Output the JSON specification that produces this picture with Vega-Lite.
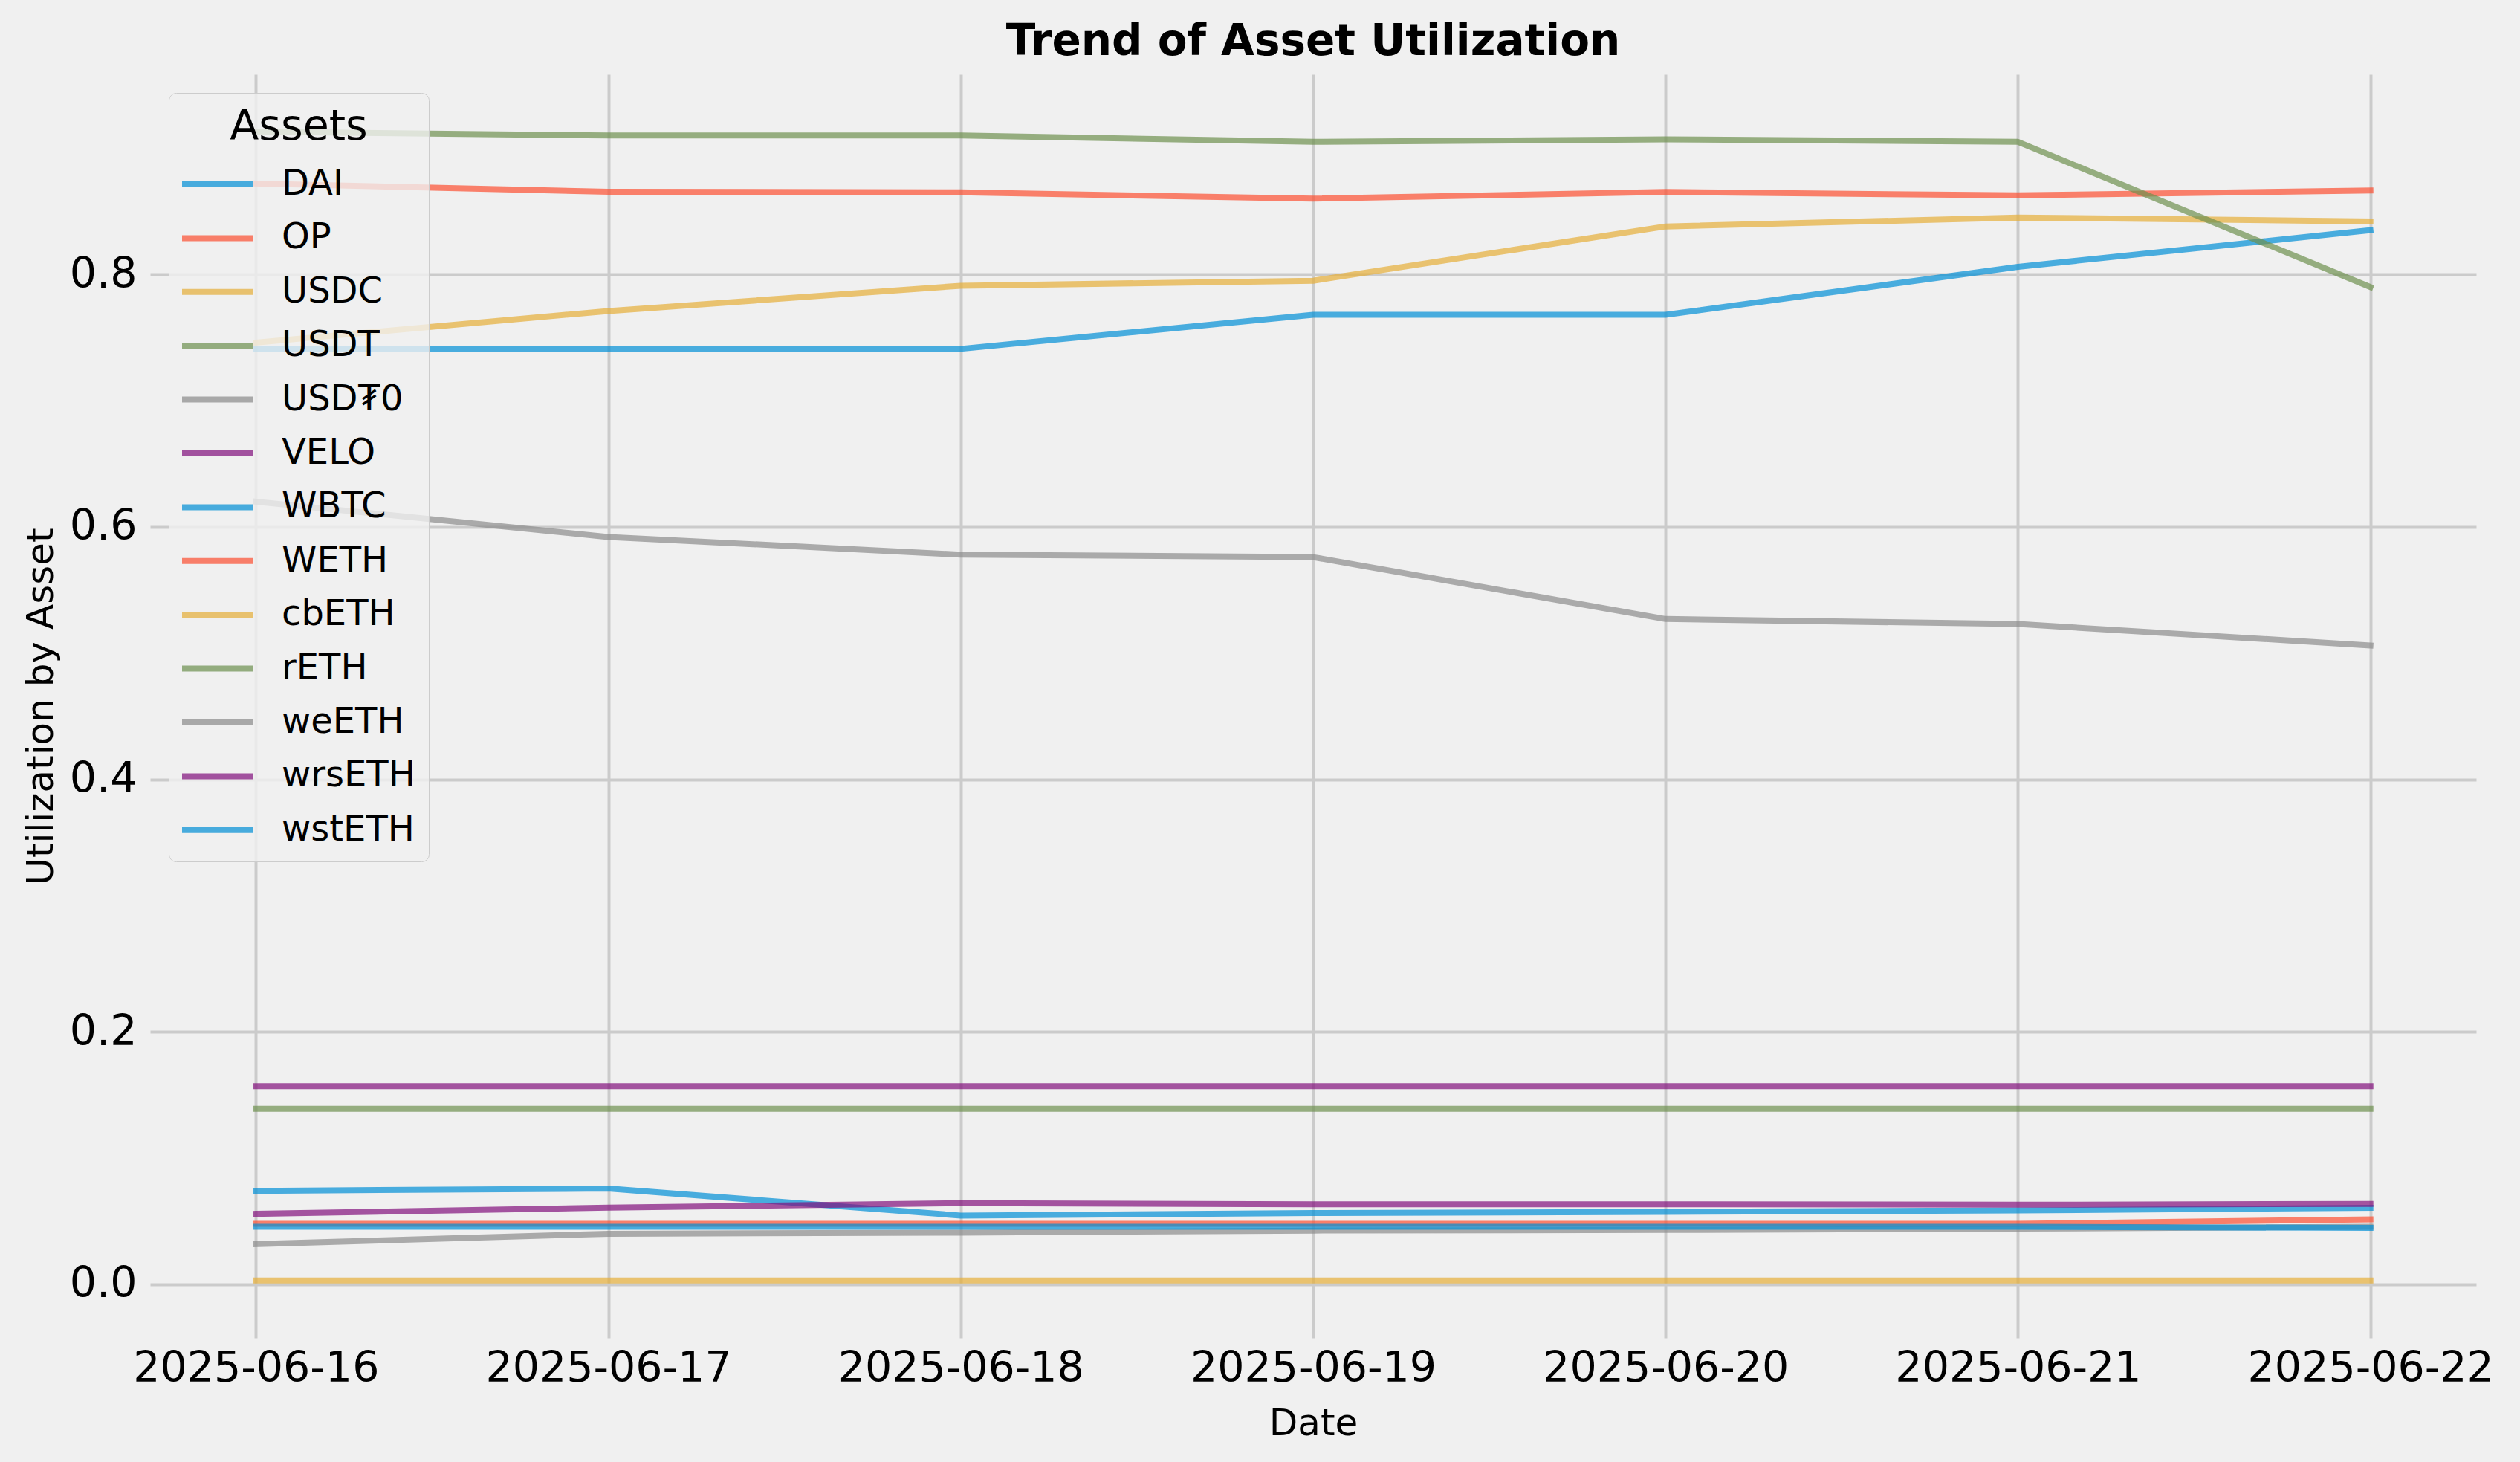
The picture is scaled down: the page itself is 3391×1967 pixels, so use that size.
{
  "$schema": "https://vega.github.io/schema/vega-lite/v6.json",
  "autosize": {"type": "none"},
  "width": 3130,
  "height": 1700,
  "padding": {"left": 202, "top": 100, "right": 59, "bottom": 167},
  "background": "#f0f0f0",
  "config": {
    "font": "DejaVu Sans",
    "view": {"stroke": null, "fill": "#f0f0f0"},
    "axis": {
      "domain": false,
      "ticks": false,
      "grid": true,
      "gridColor": "#cbcbcb",
      "gridWidth": 4,
      "labelFont": "DejaVu Sans",
      "labelFontSize": 57,
      "labelColor": "#000000",
      "labelLimit": 1000,
      "labelOverlap": false,
      "labelFlush": false,
      "titleFont": "DejaVu Sans",
      "titleFontSize": 50,
      "titleFontWeight": "normal",
      "titleColor": "#000000"
    }
  },
  "title": {
    "text": "Trend of Asset Utilization",
    "font": "DejaVu Sans",
    "fontSize": 58,
    "fontWeight": "bold",
    "color": "#000000",
    "anchor": "middle",
    "frame": "group",
    "baseline": "alphabetic",
    "offset": -32
  },
  "data": {
    "values": [
      {"date": "2025-06-16", "asset": "DAI", "value": 0.741},
      {"date": "2025-06-17", "asset": "DAI", "value": 0.741},
      {"date": "2025-06-18", "asset": "DAI", "value": 0.741},
      {"date": "2025-06-19", "asset": "DAI", "value": 0.768},
      {"date": "2025-06-20", "asset": "DAI", "value": 0.768},
      {"date": "2025-06-21", "asset": "DAI", "value": 0.806},
      {"date": "2025-06-22", "asset": "DAI", "value": 0.835},
      {"date": "2025-06-16", "asset": "OP", "value": 0.872},
      {"date": "2025-06-17", "asset": "OP", "value": 0.8655},
      {"date": "2025-06-18", "asset": "OP", "value": 0.865},
      {"date": "2025-06-19", "asset": "OP", "value": 0.860},
      {"date": "2025-06-20", "asset": "OP", "value": 0.8653},
      {"date": "2025-06-21", "asset": "OP", "value": 0.8626},
      {"date": "2025-06-22", "asset": "OP", "value": 0.8665},
      {"date": "2025-06-16", "asset": "USDC", "value": 0.746},
      {"date": "2025-06-17", "asset": "USDC", "value": 0.771},
      {"date": "2025-06-18", "asset": "USDC", "value": 0.791},
      {"date": "2025-06-19", "asset": "USDC", "value": 0.795},
      {"date": "2025-06-20", "asset": "USDC", "value": 0.838},
      {"date": "2025-06-21", "asset": "USDC", "value": 0.845},
      {"date": "2025-06-22", "asset": "USDC", "value": 0.842},
      {"date": "2025-06-16", "asset": "USDT", "value": 0.913},
      {"date": "2025-06-17", "asset": "USDT", "value": 0.910},
      {"date": "2025-06-18", "asset": "USDT", "value": 0.910},
      {"date": "2025-06-19", "asset": "USDT", "value": 0.905},
      {"date": "2025-06-20", "asset": "USDT", "value": 0.907},
      {"date": "2025-06-21", "asset": "USDT", "value": 0.905},
      {"date": "2025-06-22", "asset": "USDT", "value": 0.790},
      {"date": "2025-06-16", "asset": "USD₮0", "value": 0.620},
      {"date": "2025-06-17", "asset": "USD₮0", "value": 0.592},
      {"date": "2025-06-18", "asset": "USD₮0", "value": 0.578},
      {"date": "2025-06-19", "asset": "USD₮0", "value": 0.576},
      {"date": "2025-06-20", "asset": "USD₮0", "value": 0.527},
      {"date": "2025-06-21", "asset": "USD₮0", "value": 0.523},
      {"date": "2025-06-22", "asset": "USD₮0", "value": 0.506},
      {"date": "2025-06-16", "asset": "VELO", "value": 0.157},
      {"date": "2025-06-17", "asset": "VELO", "value": 0.157},
      {"date": "2025-06-18", "asset": "VELO", "value": 0.157},
      {"date": "2025-06-19", "asset": "VELO", "value": 0.157},
      {"date": "2025-06-20", "asset": "VELO", "value": 0.157},
      {"date": "2025-06-21", "asset": "VELO", "value": 0.157},
      {"date": "2025-06-22", "asset": "VELO", "value": 0.157},
      {"date": "2025-06-16", "asset": "WBTC", "value": 0.074},
      {"date": "2025-06-17", "asset": "WBTC", "value": 0.0758},
      {"date": "2025-06-18", "asset": "WBTC", "value": 0.0544},
      {"date": "2025-06-19", "asset": "WBTC", "value": 0.0564},
      {"date": "2025-06-20", "asset": "WBTC", "value": 0.0573},
      {"date": "2025-06-21", "asset": "WBTC", "value": 0.0585},
      {"date": "2025-06-22", "asset": "WBTC", "value": 0.0605},
      {"date": "2025-06-16", "asset": "WETH", "value": 0.0479},
      {"date": "2025-06-17", "asset": "WETH", "value": 0.0479},
      {"date": "2025-06-18", "asset": "WETH", "value": 0.0479},
      {"date": "2025-06-19", "asset": "WETH", "value": 0.0479},
      {"date": "2025-06-20", "asset": "WETH", "value": 0.0479},
      {"date": "2025-06-21", "asset": "WETH", "value": 0.0479},
      {"date": "2025-06-22", "asset": "WETH", "value": 0.0514},
      {"date": "2025-06-16", "asset": "cbETH", "value": 0.003},
      {"date": "2025-06-17", "asset": "cbETH", "value": 0.003},
      {"date": "2025-06-18", "asset": "cbETH", "value": 0.003},
      {"date": "2025-06-19", "asset": "cbETH", "value": 0.003},
      {"date": "2025-06-20", "asset": "cbETH", "value": 0.003},
      {"date": "2025-06-21", "asset": "cbETH", "value": 0.003},
      {"date": "2025-06-22", "asset": "cbETH", "value": 0.003},
      {"date": "2025-06-16", "asset": "rETH", "value": 0.139},
      {"date": "2025-06-17", "asset": "rETH", "value": 0.139},
      {"date": "2025-06-18", "asset": "rETH", "value": 0.139},
      {"date": "2025-06-19", "asset": "rETH", "value": 0.139},
      {"date": "2025-06-20", "asset": "rETH", "value": 0.139},
      {"date": "2025-06-21", "asset": "rETH", "value": 0.139},
      {"date": "2025-06-22", "asset": "rETH", "value": 0.139},
      {"date": "2025-06-16", "asset": "weETH", "value": 0.0318},
      {"date": "2025-06-17", "asset": "weETH", "value": 0.040},
      {"date": "2025-06-18", "asset": "weETH", "value": 0.0408},
      {"date": "2025-06-19", "asset": "weETH", "value": 0.0425},
      {"date": "2025-06-20", "asset": "weETH", "value": 0.043},
      {"date": "2025-06-21", "asset": "weETH", "value": 0.044},
      {"date": "2025-06-22", "asset": "weETH", "value": 0.0455},
      {"date": "2025-06-16", "asset": "wrsETH", "value": 0.0558},
      {"date": "2025-06-17", "asset": "wrsETH", "value": 0.0607},
      {"date": "2025-06-18", "asset": "wrsETH", "value": 0.0642},
      {"date": "2025-06-19", "asset": "wrsETH", "value": 0.0634},
      {"date": "2025-06-20", "asset": "wrsETH", "value": 0.0634},
      {"date": "2025-06-21", "asset": "wrsETH", "value": 0.063},
      {"date": "2025-06-22", "asset": "wrsETH", "value": 0.0636},
      {"date": "2025-06-16", "asset": "wstETH", "value": 0.0455},
      {"date": "2025-06-17", "asset": "wstETH", "value": 0.0455},
      {"date": "2025-06-18", "asset": "wstETH", "value": 0.0455},
      {"date": "2025-06-19", "asset": "wstETH", "value": 0.0455},
      {"date": "2025-06-20", "asset": "wstETH", "value": 0.0455},
      {"date": "2025-06-21", "asset": "wstETH", "value": 0.0455},
      {"date": "2025-06-22", "asset": "wstETH", "value": 0.0446}
    ]
  },
  "mark": {"type": "line", "strokeWidth": 8, "opacity": 0.7, "strokeCap": "square", "strokeJoin": "round"},
  "encoding": {
    "x": {
      "field": "date",
      "type": "temporal",
      "title": "Date",
      "scale": {
        "type": "utc",
        "domain": [
          {"year": 2025, "month": 6, "date": 15, "hours": 16, "minutes": 48, "utc": true},
          {"year": 2025, "month": 6, "date": 22, "hours": 7, "minutes": 12, "utc": true}
        ]
      },
      "axis": {
        "values": [
          {"year": 2025, "month": 6, "date": 16, "utc": true},
          {"year": 2025, "month": 6, "date": 17, "utc": true},
          {"year": 2025, "month": 6, "date": 18, "utc": true},
          {"year": 2025, "month": 6, "date": 19, "utc": true},
          {"year": 2025, "month": 6, "date": 20, "utc": true},
          {"year": 2025, "month": 6, "date": 21, "utc": true},
          {"year": 2025, "month": 6, "date": 22, "utc": true}
        ],
        "format": "%Y-%m-%d",
        "labelPadding": 13,
        "titlePadding": 21,
        "labelAngle": 0
      }
    },
    "y": {
      "field": "value",
      "type": "quantitative",
      "title": "Utilization by Asset",
      "scale": {"domain": [-0.0425, 0.9585], "nice": false, "zero": false},
      "axis": {
        "values": [0, 0.2, 0.4, 0.6, 0.8],
        "format": ".1f",
        "labelPadding": 18,
        "titlePadding": 13
      }
    },
    "color": {
      "field": "asset",
      "type": "nominal",
      "scale": {
        "domain": ["DAI", "OP", "USDC", "USDT", "USD₮0", "VELO", "WBTC", "WETH", "cbETH", "rETH", "weETH", "wrsETH", "wstETH"],
        "range": ["#008fd5", "#fc4f30", "#e5ae38", "#6d904f", "#8b8b8b", "#810f7c", "#008fd5", "#fc4f30", "#e5ae38", "#6d904f", "#8b8b8b", "#810f7c", "#008fd5"]
      },
      "legend": {
        "orient": "none",
        "legendX": 25,
        "legendY": 25,
        "title": "Assets",
        "titleFont": "DejaVu Sans",
        "titleFontSize": 57,
        "titleFontWeight": "normal",
        "titleColor": "#000000",
        "titleAnchor": "middle",
        "titleLimit": 1000,
        "titlePadding": 24,
        "labelFont": "DejaVu Sans",
        "labelFontSize": 48,
        "labelColor": "#000000",
        "labelLimit": 1000,
        "labelOffset": 34,
        "symbolOffset": -5,
        "symbolType": "stroke",
        "symbolSize": 9409,
        "symbolStrokeWidth": 8,
        "symbolOpacity": 0.7,
        "clipHeight": 48,
        "rowPadding": 24.4,
        "padding": 18,
        "fillColor": "rgba(240,240,240,0.8)",
        "strokeColor": "#cccccc",
        "cornerRadius": 10,
        "symbolLimit": 0
      }
    }
  }
}
